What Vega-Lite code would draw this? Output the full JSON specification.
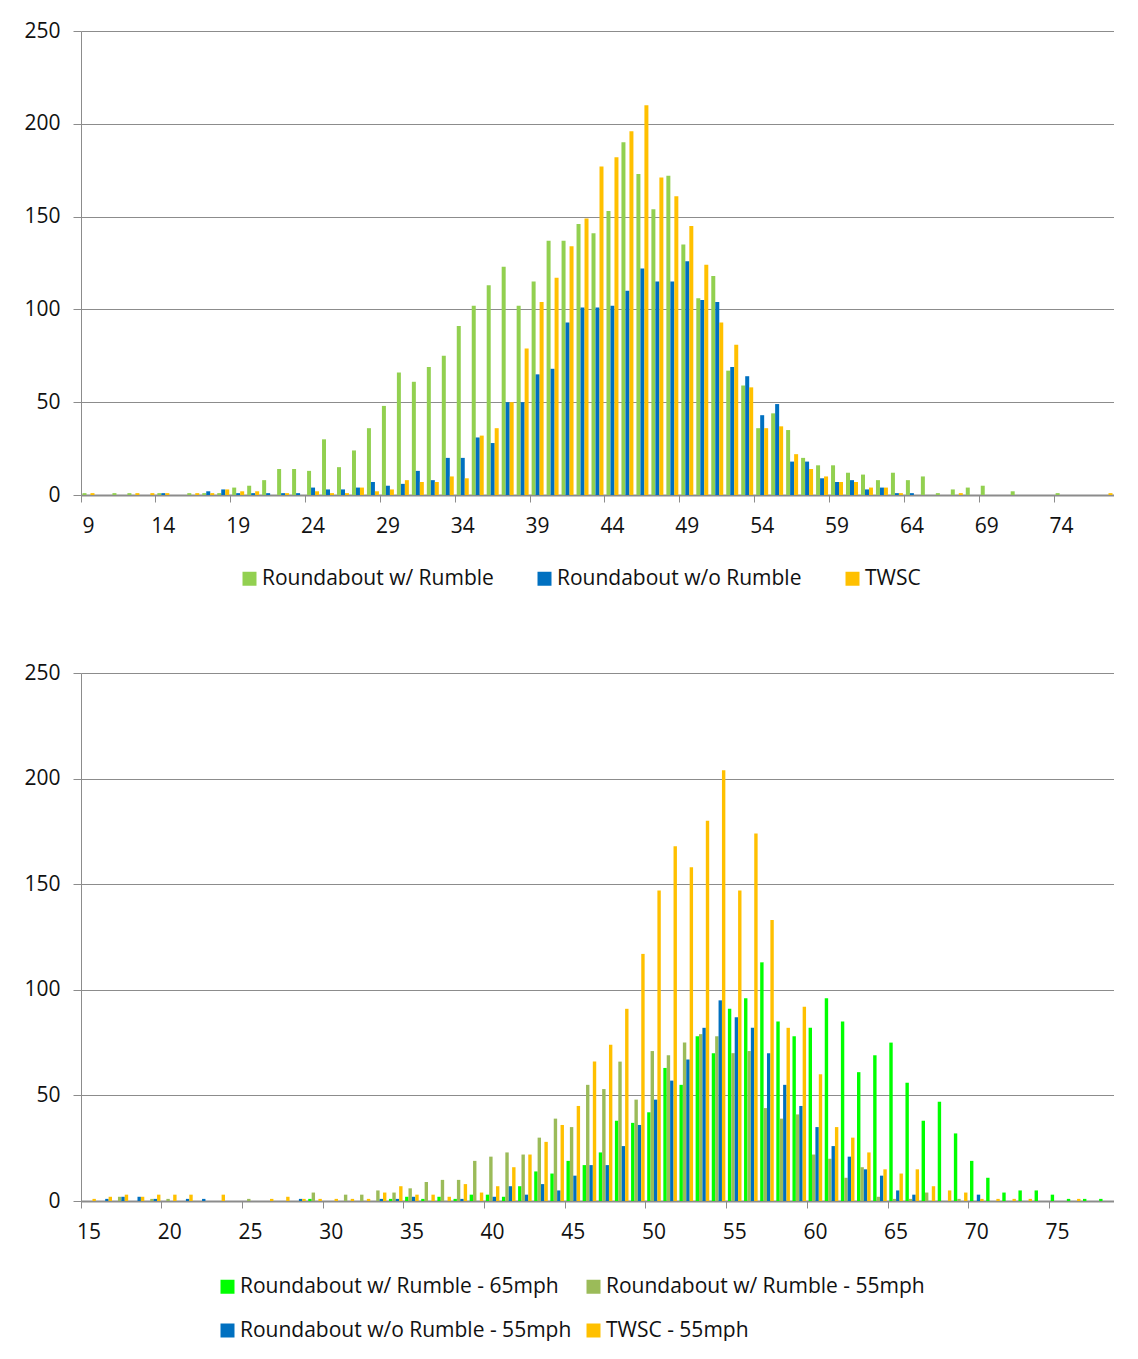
{
 "$schema": "https://vega.github.io/schema/vega-lite/v6.json",
 "background": "white",
 "padding": {"left": 23, "top": 20, "right": 0, "bottom": 0},
 "bounds": "flush",
 "spacing": 178,
 "config": {
  "font": "Open Sans",
  "view": {"stroke": null},
  "axis": {"labelFont": "Open Sans", "labelFontSize": 21, "labelColor": "#111", "title": null, "domainColor": "#8c8c8c", "tickColor": "#8c8c8c", "gridColor": "#8c8c8c"},
  "legend": {"labelFont": "Open Sans", "labelFontSize": 21, "labelColor": "#111", "labelLimit": 0, "symbolType": "square", "symbolSize": 196, "symbolStrokeWidth": 0, "labelOffset": 2, "padding": 0, "title": null}
 },
 "resolve": {"scale": {"color": "independent", "x": "independent", "xOffset": "independent"}},
 "vconcat": [
  {
   "width": 1033,
   "height": 464,
   "data": {"values": [
    {"speed":9,"Roundabout w/ Rumble":1,"Roundabout w/o Rumble":0,"TWSC":1},
    {"speed":10,"Roundabout w/ Rumble":0,"Roundabout w/o Rumble":0,"TWSC":0},
    {"speed":11,"Roundabout w/ Rumble":1,"Roundabout w/o Rumble":0,"TWSC":0},
    {"speed":12,"Roundabout w/ Rumble":1,"Roundabout w/o Rumble":0,"TWSC":1},
    {"speed":13,"Roundabout w/ Rumble":0,"Roundabout w/o Rumble":0,"TWSC":1},
    {"speed":14,"Roundabout w/ Rumble":1,"Roundabout w/o Rumble":1,"TWSC":1},
    {"speed":15,"Roundabout w/ Rumble":0,"Roundabout w/o Rumble":0,"TWSC":0},
    {"speed":16,"Roundabout w/ Rumble":1,"Roundabout w/o Rumble":0,"TWSC":1},
    {"speed":17,"Roundabout w/ Rumble":1,"Roundabout w/o Rumble":2,"TWSC":1},
    {"speed":18,"Roundabout w/ Rumble":1,"Roundabout w/o Rumble":3,"TWSC":3},
    {"speed":19,"Roundabout w/ Rumble":4,"Roundabout w/o Rumble":1,"TWSC":2},
    {"speed":20,"Roundabout w/ Rumble":5,"Roundabout w/o Rumble":1,"TWSC":2},
    {"speed":21,"Roundabout w/ Rumble":8,"Roundabout w/o Rumble":1,"TWSC":0},
    {"speed":22,"Roundabout w/ Rumble":14,"Roundabout w/o Rumble":1,"TWSC":1},
    {"speed":23,"Roundabout w/ Rumble":14,"Roundabout w/o Rumble":1,"TWSC":0},
    {"speed":24,"Roundabout w/ Rumble":13,"Roundabout w/o Rumble":4,"TWSC":2},
    {"speed":25,"Roundabout w/ Rumble":30,"Roundabout w/o Rumble":3,"TWSC":1},
    {"speed":26,"Roundabout w/ Rumble":15,"Roundabout w/o Rumble":3,"TWSC":1},
    {"speed":27,"Roundabout w/ Rumble":24,"Roundabout w/o Rumble":4,"TWSC":4},
    {"speed":28,"Roundabout w/ Rumble":36,"Roundabout w/o Rumble":7,"TWSC":2},
    {"speed":29,"Roundabout w/ Rumble":48,"Roundabout w/o Rumble":5,"TWSC":3},
    {"speed":30,"Roundabout w/ Rumble":66,"Roundabout w/o Rumble":6,"TWSC":8},
    {"speed":31,"Roundabout w/ Rumble":61,"Roundabout w/o Rumble":13,"TWSC":7},
    {"speed":32,"Roundabout w/ Rumble":69,"Roundabout w/o Rumble":8,"TWSC":7},
    {"speed":33,"Roundabout w/ Rumble":75,"Roundabout w/o Rumble":20,"TWSC":10},
    {"speed":34,"Roundabout w/ Rumble":91,"Roundabout w/o Rumble":20,"TWSC":9},
    {"speed":35,"Roundabout w/ Rumble":102,"Roundabout w/o Rumble":31,"TWSC":32},
    {"speed":36,"Roundabout w/ Rumble":113,"Roundabout w/o Rumble":28,"TWSC":36},
    {"speed":37,"Roundabout w/ Rumble":123,"Roundabout w/o Rumble":50,"TWSC":50},
    {"speed":38,"Roundabout w/ Rumble":102,"Roundabout w/o Rumble":50,"TWSC":79},
    {"speed":39,"Roundabout w/ Rumble":115,"Roundabout w/o Rumble":65,"TWSC":104},
    {"speed":40,"Roundabout w/ Rumble":137,"Roundabout w/o Rumble":68,"TWSC":117},
    {"speed":41,"Roundabout w/ Rumble":137,"Roundabout w/o Rumble":93,"TWSC":134},
    {"speed":42,"Roundabout w/ Rumble":146,"Roundabout w/o Rumble":101,"TWSC":149},
    {"speed":43,"Roundabout w/ Rumble":141,"Roundabout w/o Rumble":101,"TWSC":177},
    {"speed":44,"Roundabout w/ Rumble":153,"Roundabout w/o Rumble":102,"TWSC":182},
    {"speed":45,"Roundabout w/ Rumble":190,"Roundabout w/o Rumble":110,"TWSC":196},
    {"speed":46,"Roundabout w/ Rumble":173,"Roundabout w/o Rumble":122,"TWSC":210},
    {"speed":47,"Roundabout w/ Rumble":154,"Roundabout w/o Rumble":115,"TWSC":171},
    {"speed":48,"Roundabout w/ Rumble":172,"Roundabout w/o Rumble":115,"TWSC":161},
    {"speed":49,"Roundabout w/ Rumble":135,"Roundabout w/o Rumble":126,"TWSC":145},
    {"speed":50,"Roundabout w/ Rumble":106,"Roundabout w/o Rumble":105,"TWSC":124},
    {"speed":51,"Roundabout w/ Rumble":118,"Roundabout w/o Rumble":104,"TWSC":93},
    {"speed":52,"Roundabout w/ Rumble":67,"Roundabout w/o Rumble":69,"TWSC":81},
    {"speed":53,"Roundabout w/ Rumble":59,"Roundabout w/o Rumble":64,"TWSC":58},
    {"speed":54,"Roundabout w/ Rumble":36,"Roundabout w/o Rumble":43,"TWSC":36},
    {"speed":55,"Roundabout w/ Rumble":44,"Roundabout w/o Rumble":49,"TWSC":37},
    {"speed":56,"Roundabout w/ Rumble":35,"Roundabout w/o Rumble":18,"TWSC":22},
    {"speed":57,"Roundabout w/ Rumble":20,"Roundabout w/o Rumble":18,"TWSC":14},
    {"speed":58,"Roundabout w/ Rumble":16,"Roundabout w/o Rumble":9,"TWSC":10},
    {"speed":59,"Roundabout w/ Rumble":16,"Roundabout w/o Rumble":7,"TWSC":7},
    {"speed":60,"Roundabout w/ Rumble":12,"Roundabout w/o Rumble":8,"TWSC":7},
    {"speed":61,"Roundabout w/ Rumble":11,"Roundabout w/o Rumble":3,"TWSC":4},
    {"speed":62,"Roundabout w/ Rumble":8,"Roundabout w/o Rumble":4,"TWSC":4},
    {"speed":63,"Roundabout w/ Rumble":12,"Roundabout w/o Rumble":1,"TWSC":1},
    {"speed":64,"Roundabout w/ Rumble":8,"Roundabout w/o Rumble":1,"TWSC":0},
    {"speed":65,"Roundabout w/ Rumble":10,"Roundabout w/o Rumble":0,"TWSC":0},
    {"speed":66,"Roundabout w/ Rumble":1,"Roundabout w/o Rumble":0,"TWSC":0},
    {"speed":67,"Roundabout w/ Rumble":3,"Roundabout w/o Rumble":0,"TWSC":1},
    {"speed":68,"Roundabout w/ Rumble":4,"Roundabout w/o Rumble":0,"TWSC":0},
    {"speed":69,"Roundabout w/ Rumble":5,"Roundabout w/o Rumble":0,"TWSC":0},
    {"speed":70,"Roundabout w/ Rumble":0,"Roundabout w/o Rumble":0,"TWSC":0},
    {"speed":71,"Roundabout w/ Rumble":2,"Roundabout w/o Rumble":0,"TWSC":0},
    {"speed":72,"Roundabout w/ Rumble":0,"Roundabout w/o Rumble":0,"TWSC":0},
    {"speed":73,"Roundabout w/ Rumble":0,"Roundabout w/o Rumble":0,"TWSC":0},
    {"speed":74,"Roundabout w/ Rumble":1,"Roundabout w/o Rumble":0,"TWSC":0},
    {"speed":75,"Roundabout w/ Rumble":0,"Roundabout w/o Rumble":0,"TWSC":0},
    {"speed":76,"Roundabout w/ Rumble":0,"Roundabout w/o Rumble":0,"TWSC":0},
    {"speed":77,"Roundabout w/ Rumble":0,"Roundabout w/o Rumble":0,"TWSC":1}
   ]},
   "transform": [{"fold": ["Roundabout w/ Rumble", "Roundabout w/o Rumble", "TWSC"], "as": ["series", "count"]}],
   "mark": {"type": "bar"},
   "encoding": {
    "x": {"field": "speed", "type": "ordinal", "scale": {"paddingInner": 0, "paddingOuter": 0},
          "axis": {"values": [9,14,19,24,29,34,39,44,49,54,59,64,69,74], "bandPosition": 0, "labelAngle": 0, "tickSize": 7, "labelPadding": 13, "domainWidth": 2, "grid": false}},
    "xOffset": {"field": "series", "sort": ["Roundabout w/ Rumble", "Roundabout w/o Rumble", "TWSC"], "scale": {"paddingOuter": 0.375, "paddingInner": 0}},
    "y": {"field": "count", "type": "quantitative", "scale": {"domain": [0, 250]},
          "axis": {"values": [0,50,100,150,200,250], "grid": true, "tickSize": 8, "labelPadding": 13}},
    "color": {"field": "series", "type": "nominal",
              "scale": {"domain": ["Roundabout w/ Rumble", "Roundabout w/o Rumble", "TWSC"], "range": ["#92D050", "#0070C0", "#FFC000"]},
              "legend": {"orient": "none", "legendX": 158, "legendY": 537, "direction": "horizontal", "columnPadding": 40}}
   }
  },
  {
   "width": 1033,
   "height": 528,
   "data": {"values": [
    {"speed":15,"Roundabout w/ Rumble - 65mph":0,"Roundabout w/ Rumble - 55mph":0,"Roundabout w/o Rumble - 55mph":0,"TWSC - 55mph":1},
    {"speed":16,"Roundabout w/ Rumble - 65mph":0,"Roundabout w/ Rumble - 55mph":0,"Roundabout w/o Rumble - 55mph":1,"TWSC - 55mph":2},
    {"speed":17,"Roundabout w/ Rumble - 65mph":0,"Roundabout w/ Rumble - 55mph":2,"Roundabout w/o Rumble - 55mph":2,"TWSC - 55mph":3},
    {"speed":18,"Roundabout w/ Rumble - 65mph":0,"Roundabout w/ Rumble - 55mph":0,"Roundabout w/o Rumble - 55mph":2,"TWSC - 55mph":2},
    {"speed":19,"Roundabout w/ Rumble - 65mph":0,"Roundabout w/ Rumble - 55mph":1,"Roundabout w/o Rumble - 55mph":1,"TWSC - 55mph":3},
    {"speed":20,"Roundabout w/ Rumble - 65mph":0,"Roundabout w/ Rumble - 55mph":1,"Roundabout w/o Rumble - 55mph":0,"TWSC - 55mph":3},
    {"speed":21,"Roundabout w/ Rumble - 65mph":0,"Roundabout w/ Rumble - 55mph":0,"Roundabout w/o Rumble - 55mph":1,"TWSC - 55mph":3},
    {"speed":22,"Roundabout w/ Rumble - 65mph":0,"Roundabout w/ Rumble - 55mph":0,"Roundabout w/o Rumble - 55mph":1,"TWSC - 55mph":0},
    {"speed":23,"Roundabout w/ Rumble - 65mph":0,"Roundabout w/ Rumble - 55mph":0,"Roundabout w/o Rumble - 55mph":0,"TWSC - 55mph":3},
    {"speed":24,"Roundabout w/ Rumble - 65mph":0,"Roundabout w/ Rumble - 55mph":0,"Roundabout w/o Rumble - 55mph":0,"TWSC - 55mph":0},
    {"speed":25,"Roundabout w/ Rumble - 65mph":0,"Roundabout w/ Rumble - 55mph":1,"Roundabout w/o Rumble - 55mph":0,"TWSC - 55mph":0},
    {"speed":26,"Roundabout w/ Rumble - 65mph":0,"Roundabout w/ Rumble - 55mph":0,"Roundabout w/o Rumble - 55mph":0,"TWSC - 55mph":1},
    {"speed":27,"Roundabout w/ Rumble - 65mph":0,"Roundabout w/ Rumble - 55mph":0,"Roundabout w/o Rumble - 55mph":0,"TWSC - 55mph":2},
    {"speed":28,"Roundabout w/ Rumble - 65mph":0,"Roundabout w/ Rumble - 55mph":0,"Roundabout w/o Rumble - 55mph":1,"TWSC - 55mph":1},
    {"speed":29,"Roundabout w/ Rumble - 65mph":1,"Roundabout w/ Rumble - 55mph":4,"Roundabout w/o Rumble - 55mph":0,"TWSC - 55mph":1},
    {"speed":30,"Roundabout w/ Rumble - 65mph":0,"Roundabout w/ Rumble - 55mph":0,"Roundabout w/o Rumble - 55mph":0,"TWSC - 55mph":1},
    {"speed":31,"Roundabout w/ Rumble - 65mph":0,"Roundabout w/ Rumble - 55mph":3,"Roundabout w/o Rumble - 55mph":0,"TWSC - 55mph":1},
    {"speed":32,"Roundabout w/ Rumble - 65mph":0,"Roundabout w/ Rumble - 55mph":3,"Roundabout w/o Rumble - 55mph":0,"TWSC - 55mph":1},
    {"speed":33,"Roundabout w/ Rumble - 65mph":0,"Roundabout w/ Rumble - 55mph":5,"Roundabout w/o Rumble - 55mph":1,"TWSC - 55mph":4},
    {"speed":34,"Roundabout w/ Rumble - 65mph":1,"Roundabout w/ Rumble - 55mph":4,"Roundabout w/o Rumble - 55mph":1,"TWSC - 55mph":7},
    {"speed":35,"Roundabout w/ Rumble - 65mph":2,"Roundabout w/ Rumble - 55mph":6,"Roundabout w/o Rumble - 55mph":2,"TWSC - 55mph":3},
    {"speed":36,"Roundabout w/ Rumble - 65mph":1,"Roundabout w/ Rumble - 55mph":9,"Roundabout w/o Rumble - 55mph":0,"TWSC - 55mph":3},
    {"speed":37,"Roundabout w/ Rumble - 65mph":2,"Roundabout w/ Rumble - 55mph":10,"Roundabout w/o Rumble - 55mph":0,"TWSC - 55mph":2},
    {"speed":38,"Roundabout w/ Rumble - 65mph":1,"Roundabout w/ Rumble - 55mph":10,"Roundabout w/o Rumble - 55mph":1,"TWSC - 55mph":8},
    {"speed":39,"Roundabout w/ Rumble - 65mph":3,"Roundabout w/ Rumble - 55mph":19,"Roundabout w/o Rumble - 55mph":0,"TWSC - 55mph":4},
    {"speed":40,"Roundabout w/ Rumble - 65mph":3,"Roundabout w/ Rumble - 55mph":21,"Roundabout w/o Rumble - 55mph":2,"TWSC - 55mph":7},
    {"speed":41,"Roundabout w/ Rumble - 65mph":2,"Roundabout w/ Rumble - 55mph":23,"Roundabout w/o Rumble - 55mph":7,"TWSC - 55mph":16},
    {"speed":42,"Roundabout w/ Rumble - 65mph":7,"Roundabout w/ Rumble - 55mph":22,"Roundabout w/o Rumble - 55mph":3,"TWSC - 55mph":22},
    {"speed":43,"Roundabout w/ Rumble - 65mph":14,"Roundabout w/ Rumble - 55mph":30,"Roundabout w/o Rumble - 55mph":8,"TWSC - 55mph":28},
    {"speed":44,"Roundabout w/ Rumble - 65mph":13,"Roundabout w/ Rumble - 55mph":39,"Roundabout w/o Rumble - 55mph":5,"TWSC - 55mph":36},
    {"speed":45,"Roundabout w/ Rumble - 65mph":19,"Roundabout w/ Rumble - 55mph":35,"Roundabout w/o Rumble - 55mph":12,"TWSC - 55mph":45},
    {"speed":46,"Roundabout w/ Rumble - 65mph":17,"Roundabout w/ Rumble - 55mph":55,"Roundabout w/o Rumble - 55mph":17,"TWSC - 55mph":66},
    {"speed":47,"Roundabout w/ Rumble - 65mph":23,"Roundabout w/ Rumble - 55mph":53,"Roundabout w/o Rumble - 55mph":17,"TWSC - 55mph":74},
    {"speed":48,"Roundabout w/ Rumble - 65mph":38,"Roundabout w/ Rumble - 55mph":66,"Roundabout w/o Rumble - 55mph":26,"TWSC - 55mph":91},
    {"speed":49,"Roundabout w/ Rumble - 65mph":37,"Roundabout w/ Rumble - 55mph":48,"Roundabout w/o Rumble - 55mph":36,"TWSC - 55mph":117},
    {"speed":50,"Roundabout w/ Rumble - 65mph":42,"Roundabout w/ Rumble - 55mph":71,"Roundabout w/o Rumble - 55mph":48,"TWSC - 55mph":147},
    {"speed":51,"Roundabout w/ Rumble - 65mph":63,"Roundabout w/ Rumble - 55mph":69,"Roundabout w/o Rumble - 55mph":57,"TWSC - 55mph":168},
    {"speed":52,"Roundabout w/ Rumble - 65mph":55,"Roundabout w/ Rumble - 55mph":75,"Roundabout w/o Rumble - 55mph":67,"TWSC - 55mph":158},
    {"speed":53,"Roundabout w/ Rumble - 65mph":78,"Roundabout w/ Rumble - 55mph":79,"Roundabout w/o Rumble - 55mph":82,"TWSC - 55mph":180},
    {"speed":54,"Roundabout w/ Rumble - 65mph":70,"Roundabout w/ Rumble - 55mph":78,"Roundabout w/o Rumble - 55mph":95,"TWSC - 55mph":204},
    {"speed":55,"Roundabout w/ Rumble - 65mph":91,"Roundabout w/ Rumble - 55mph":70,"Roundabout w/o Rumble - 55mph":87,"TWSC - 55mph":147},
    {"speed":56,"Roundabout w/ Rumble - 65mph":96,"Roundabout w/ Rumble - 55mph":71,"Roundabout w/o Rumble - 55mph":82,"TWSC - 55mph":174},
    {"speed":57,"Roundabout w/ Rumble - 65mph":113,"Roundabout w/ Rumble - 55mph":44,"Roundabout w/o Rumble - 55mph":70,"TWSC - 55mph":133},
    {"speed":58,"Roundabout w/ Rumble - 65mph":85,"Roundabout w/ Rumble - 55mph":39,"Roundabout w/o Rumble - 55mph":55,"TWSC - 55mph":82},
    {"speed":59,"Roundabout w/ Rumble - 65mph":78,"Roundabout w/ Rumble - 55mph":41,"Roundabout w/o Rumble - 55mph":45,"TWSC - 55mph":92},
    {"speed":60,"Roundabout w/ Rumble - 65mph":82,"Roundabout w/ Rumble - 55mph":22,"Roundabout w/o Rumble - 55mph":35,"TWSC - 55mph":60},
    {"speed":61,"Roundabout w/ Rumble - 65mph":96,"Roundabout w/ Rumble - 55mph":20,"Roundabout w/o Rumble - 55mph":26,"TWSC - 55mph":35},
    {"speed":62,"Roundabout w/ Rumble - 65mph":85,"Roundabout w/ Rumble - 55mph":11,"Roundabout w/o Rumble - 55mph":21,"TWSC - 55mph":30},
    {"speed":63,"Roundabout w/ Rumble - 65mph":61,"Roundabout w/ Rumble - 55mph":16,"Roundabout w/o Rumble - 55mph":15,"TWSC - 55mph":23},
    {"speed":64,"Roundabout w/ Rumble - 65mph":69,"Roundabout w/ Rumble - 55mph":2,"Roundabout w/o Rumble - 55mph":12,"TWSC - 55mph":15},
    {"speed":65,"Roundabout w/ Rumble - 65mph":75,"Roundabout w/ Rumble - 55mph":1,"Roundabout w/o Rumble - 55mph":5,"TWSC - 55mph":13},
    {"speed":66,"Roundabout w/ Rumble - 65mph":56,"Roundabout w/ Rumble - 55mph":1,"Roundabout w/o Rumble - 55mph":3,"TWSC - 55mph":15},
    {"speed":67,"Roundabout w/ Rumble - 65mph":38,"Roundabout w/ Rumble - 55mph":4,"Roundabout w/o Rumble - 55mph":0,"TWSC - 55mph":7},
    {"speed":68,"Roundabout w/ Rumble - 65mph":47,"Roundabout w/ Rumble - 55mph":0,"Roundabout w/o Rumble - 55mph":0,"TWSC - 55mph":5},
    {"speed":69,"Roundabout w/ Rumble - 65mph":32,"Roundabout w/ Rumble - 55mph":1,"Roundabout w/o Rumble - 55mph":0,"TWSC - 55mph":4},
    {"speed":70,"Roundabout w/ Rumble - 65mph":19,"Roundabout w/ Rumble - 55mph":0,"Roundabout w/o Rumble - 55mph":3,"TWSC - 55mph":1},
    {"speed":71,"Roundabout w/ Rumble - 65mph":11,"Roundabout w/ Rumble - 55mph":0,"Roundabout w/o Rumble - 55mph":0,"TWSC - 55mph":1},
    {"speed":72,"Roundabout w/ Rumble - 65mph":4,"Roundabout w/ Rumble - 55mph":0,"Roundabout w/o Rumble - 55mph":0,"TWSC - 55mph":1},
    {"speed":73,"Roundabout w/ Rumble - 65mph":5,"Roundabout w/ Rumble - 55mph":0,"Roundabout w/o Rumble - 55mph":0,"TWSC - 55mph":1},
    {"speed":74,"Roundabout w/ Rumble - 65mph":5,"Roundabout w/ Rumble - 55mph":0,"Roundabout w/o Rumble - 55mph":0,"TWSC - 55mph":0},
    {"speed":75,"Roundabout w/ Rumble - 65mph":3,"Roundabout w/ Rumble - 55mph":0,"Roundabout w/o Rumble - 55mph":0,"TWSC - 55mph":0},
    {"speed":76,"Roundabout w/ Rumble - 65mph":1,"Roundabout w/ Rumble - 55mph":0,"Roundabout w/o Rumble - 55mph":0,"TWSC - 55mph":1},
    {"speed":77,"Roundabout w/ Rumble - 65mph":1,"Roundabout w/ Rumble - 55mph":0,"Roundabout w/o Rumble - 55mph":0,"TWSC - 55mph":0},
    {"speed":78,"Roundabout w/ Rumble - 65mph":1,"Roundabout w/ Rumble - 55mph":0,"Roundabout w/o Rumble - 55mph":0,"TWSC - 55mph":0}
   ]},
   "transform": [{"fold": ["Roundabout w/ Rumble - 65mph", "Roundabout w/ Rumble - 55mph", "Roundabout w/o Rumble - 55mph", "TWSC - 55mph"], "as": ["series", "count"]}],
   "mark": {"type": "bar"},
   "encoding": {
    "x": {"field": "speed", "type": "ordinal", "scale": {"paddingInner": 0, "paddingOuter": 0},
          "axis": {"values": [15,20,25,30,35,40,45,50,55,60,65,70,75], "bandPosition": 0, "labelAngle": 0, "tickSize": 7, "labelPadding": 13, "domainWidth": 2, "grid": false}},
    "xOffset": {"field": "series", "sort": ["Roundabout w/ Rumble - 65mph", "Roundabout w/ Rumble - 55mph", "Roundabout w/o Rumble - 55mph", "TWSC - 55mph"], "scale": {"paddingOuter": 0.375, "paddingInner": 0}},
    "y": {"field": "count", "type": "quantitative", "scale": {"domain": [0, 250]},
          "axis": {"values": [0,50,100,150,200,250], "grid": true, "tickSize": 8, "labelPadding": 13}},
    "color": {"field": "series", "type": "nominal",
              "scale": {"domain": ["Roundabout w/ Rumble - 65mph", "Roundabout w/ Rumble - 55mph", "Roundabout w/o Rumble - 55mph", "TWSC - 55mph"], "range": ["#00FF00", "#9BBB59", "#0070C0", "#FFC000"]},
              "legend": {"orient": "none", "legendX": 136, "legendY": 603, "direction": "horizontal", "columns": 2, "columnPadding": 11, "rowPadding": 22}}
   }
  }
 ]
}
